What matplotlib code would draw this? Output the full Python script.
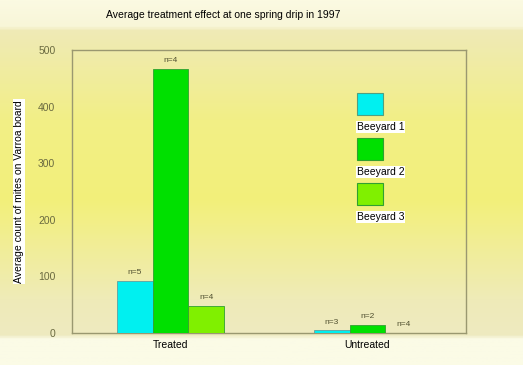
import matplotlib
matplotlib.use("Agg")
import matplotlib.pyplot as plt
import numpy as np
from matplotlib.colors import LinearSegmentedColormap
from matplotlib.patches import Rectangle

categories = ["Treated", "Untreated"]
series_names = ["Beeyard 1", "Beeyard 2", "Beeyard 3"]
beeyard1 = [92, 5]
beeyard2 = [467, 15]
beeyard3 = [48, 0]
n_labels = [["n=5", "n=3"], ["n=4", "n=2"], ["n=4", "n=4"]]
yticks = [0, 100, 200, 300, 400, 500]
colors = ["#00f0f0", "#00e000", "#80f000"]

plt.rcParams['font.family'] = ['Liberation Sans', 'DejaVu Sans']

W, H = 523, 365
fig = plt.figure(figsize=(W / 100, H / 100), dpi=100)

# background gradient
bg = fig.add_axes([0, 0, 1, 1], zorder=-10)
bg.set_axis_off()
stops = [(0.0, "#fbfae2"), (25 / H, "#f8f6d8"), (30 / H, "#efeab6"),
         (120 / H, "#f2ef86"), (200 / H, "#f3f07a"), (300 / H, "#efebb8"),
         (336 / H, "#eeeac0"), (340 / H, "#fbfbe6"), (1.0, "#fbfbe6")]
cmap = LinearSegmentedColormap.from_list("bg", stops)
grad = np.linspace(0, 1, 400).reshape(-1, 1)
bg.imshow(grad, aspect="auto", cmap=cmap, extent=[0, 1, 1, 0])
bg.set_xlim(0, 1)
bg.set_ylim(1, 0)

# main axes: left 72, right 466, top 50, bottom 333
ax = fig.add_axes([72 / W, 1 - 333 / H, (466 - 72) / W, (333 - 50) / H])
ax.patch.set_alpha(0)

x = np.arange(len(categories))
w = 0.181
data = [beeyard1, beeyard2, beeyard3]
for i, (vals, c) in enumerate(zip(data, colors)):
    pos = x + (i - 1) * w
    ax.bar(pos, vals, width=w, color=c, edgecolor="#60a0a0" if i == 0 else "#30a030",
           linewidth=0.6 , zorder=3)
    for j, v in enumerate(vals):
        ax.text(pos[j], v + 8, n_labels[i][j], ha="center", va="bottom",
                fontsize=6, color="#505030", zorder=4)

ax.set_xlim(-0.5, 1.5)
ax.set_ylim(0, 500)
ax.set_yticks(yticks)
ax.set_yticklabels([str(t) for t in yticks], fontsize=7.5, color="#6a6a40")
ax.set_xticks(x)
ax.set_xticklabels(categories, fontsize=7.5, color="black")
ax.tick_params(axis="both", length=0, pad=12)
ax.tick_params(axis="x", pad=5)
for s in ax.spines.values():
    s.set_color("#9a9870")
    s.set_linewidth(1.0)

ax.set_ylabel("Average count of mites on Varroa board", fontsize=7.5,
              bbox=dict(facecolor="white", edgecolor="none", pad=1))
ax.yaxis.set_label_coords(-48 / (466 - 72), 0.5)

fig.text(223 / W, 1 - 15 / H, "Average treatment effect at one spring drip in 1997",
         ha="center", va="center", fontsize=7.5)

# legend drawn manually
for i, (name, c) in enumerate(zip(series_names, colors)):
    top = 93 + i * 45
    fig.patches.append(Rectangle((357 / W, 1 - (top + 22) / H), 26 / W, 22 / H,
                                 transform=fig.transFigure, facecolor=c,
                                 edgecolor="#50a080" if i == 0 else "#30a030",
                                 linewidth=0.8))
    fig.text(357 / W, 1 - (top + 34) / H, name, ha="left", va="center", fontsize=7.5,
             bbox=dict(facecolor="white", edgecolor="none", pad=0.5))

fig.savefig("out.png", dpi=100)
